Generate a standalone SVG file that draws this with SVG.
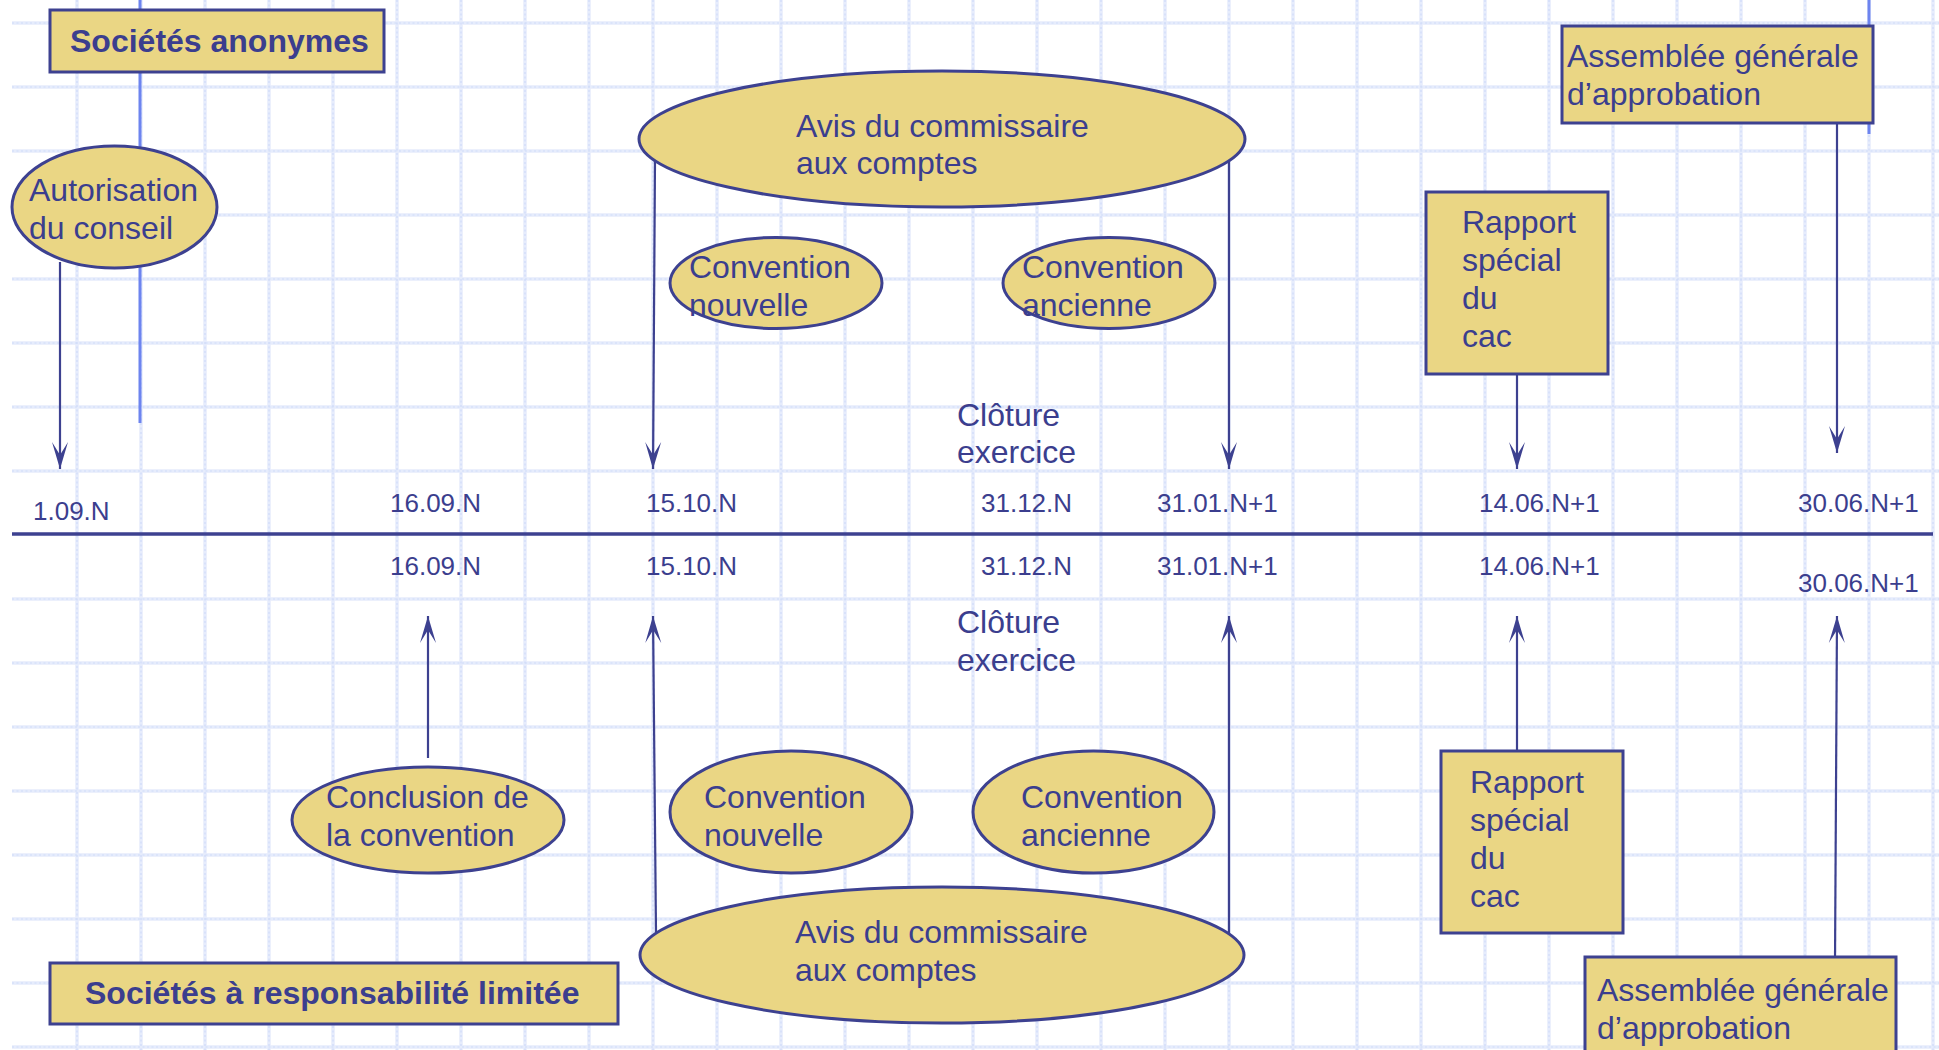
<svg xmlns="http://www.w3.org/2000/svg" width="1939" height="1050" viewBox="0 0 1939 1050">
<defs>
<style>
.grid{fill:none;stroke:#e6ecfc;stroke-width:3.5}
.gridd{fill:none;stroke:#d0dbf8;stroke-width:1.2;stroke-dasharray:2 2.5}
.blue{stroke:#6d84ef;stroke-width:3}
.conn{fill:none;stroke:#3d4190;stroke-width:2.2}
.axis{stroke:#3d4190;stroke-width:3.5}
.shape{fill:#ead684;stroke:#3d4190;stroke-width:3}
.t{font-family:"Liberation Sans",Arial,Helvetica,sans-serif;font-size:32px;fill:#3b3e8e}
.tb{font-family:"Liberation Sans",Arial,Helvetica,sans-serif;font-size:32px;font-weight:bold;fill:#3b3e8e}
.d{font-family:"Liberation Sans",Arial,Helvetica,sans-serif;font-size:26px;fill:#3b3e8e}
</style>
<marker id="ah" viewBox="-28 -9 29 18" refX="0" refY="0" markerWidth="29" markerHeight="18" markerUnits="userSpaceOnUse" orient="auto">
<path d="M0,0 L-27,-8 L-14,0 L-27,8 Z" fill="#3d4190"/>
</marker>
</defs>
<rect x="0" y="0" width="1939" height="1050" fill="#ffffff"/>
<g id="grid">
<path class="grid" d="M77,0V1050M141,0V1050M205,0V1050M269,0V1050M333,0V1050M397,0V1050M461,0V1050M525,0V1050M589,0V1050M653,0V1050M717,0V1050M781,0V1050M845,0V1050M909,0V1050M973,0V1050M1037,0V1050M1101,0V1050M1165,0V1050M1229,0V1050M1293,0V1050M1357,0V1050M1421,0V1050M1485,0V1050M1549,0V1050M1613,0V1050M1677,0V1050M1741,0V1050M1805,0V1050M1869,0V1050M1933,0V1050"/>
<path class="grid" d="M12,23H1939M12,87H1939M12,151H1939M12,215H1939M12,279H1939M12,343H1939M12,407H1939M12,471H1939M12,599H1939M12,663H1939M12,727H1939M12,791H1939M12,855H1939M12,919H1939M12,983H1939M12,1047H1939"/>
<path class="gridd" d="M77,0V1050M141,0V1050M205,0V1050M269,0V1050M333,0V1050M397,0V1050M461,0V1050M525,0V1050M589,0V1050M653,0V1050M717,0V1050M781,0V1050M845,0V1050M909,0V1050M973,0V1050M1037,0V1050M1101,0V1050M1165,0V1050M1229,0V1050M1293,0V1050M1357,0V1050M1421,0V1050M1485,0V1050M1549,0V1050M1613,0V1050M1677,0V1050M1741,0V1050M1805,0V1050M1869,0V1050M1933,0V1050"/>
<path class="gridd" d="M12,23H1939M12,87H1939M12,151H1939M12,215H1939M12,279H1939M12,343H1939M12,407H1939M12,471H1939M12,599H1939M12,663H1939M12,727H1939M12,791H1939M12,855H1939M12,919H1939M12,983H1939M12,1047H1939"/>
</g>
<g id="blue-lines">
<line class="blue" x1="140" y1="0" x2="140" y2="423"/>
<line class="blue" x1="1869" y1="0" x2="1869" y2="134"/>
</g>
<g id="timeline">
<line class="axis" x1="12" y1="534" x2="1933" y2="534"/>
<text class="d" x="33" y="520">1.09.N</text>
<text class="d" x="390" y="512">16.09.N</text>
<text class="d" x="646" y="512">15.10.N</text>
<text class="d" x="981" y="512">31.12.N</text>
<text class="d" x="1157" y="512">31.01.N+1</text>
<text class="d" x="1479" y="512">14.06.N+1</text>
<text class="d" x="1798" y="512">30.06.N+1</text>
<text class="d" x="390" y="575">16.09.N</text>
<text class="d" x="646" y="575">15.10.N</text>
<text class="d" x="981" y="575">31.12.N</text>
<text class="d" x="1157" y="575">31.01.N+1</text>
<text class="d" x="1479" y="575">14.06.N+1</text>
<text class="d" x="1798" y="592">30.06.N+1</text>
</g>
<g id="connectors">
<line class="conn" x1="60" y1="262" x2="60" y2="469" marker-end="url(#ah)"/>
<line class="conn" x1="655" y1="160" x2="653" y2="469" marker-end="url(#ah)"/>
<line class="conn" x1="1229" y1="160" x2="1229" y2="469" marker-end="url(#ah)"/>
<line class="conn" x1="1517" y1="374" x2="1517" y2="469" marker-end="url(#ah)"/>
<line class="conn" x1="1837" y1="118" x2="1837" y2="453" marker-end="url(#ah)"/>
<line class="conn" x1="428" y1="758" x2="428" y2="616" marker-end="url(#ah)"/>
<line class="conn" x1="656" y1="932" x2="653" y2="616" marker-end="url(#ah)"/>
<line class="conn" x1="1229" y1="934" x2="1229" y2="616" marker-end="url(#ah)"/>
<line class="conn" x1="1517" y1="751" x2="1517" y2="616" marker-end="url(#ah)"/>
<line class="conn" x1="1835" y1="962" x2="1837" y2="616" marker-end="url(#ah)"/>
</g>
<g id="sa-title">
<rect class="shape" x="50" y="10" width="334" height="62"/>
<text class="tb" x="70" y="52">Sociétés anonymes</text>
</g>
<g id="sa-autorisation">
<ellipse class="shape" cx="114.5" cy="207" rx="102.5" ry="61"/>
<text class="t" x="29" y="201">Autorisation</text>
<text class="t" x="29" y="239">du conseil</text>
</g>
<g id="sa-avis">
<ellipse class="shape" cx="942" cy="139" rx="303" ry="68"/>
<text class="t" x="796" y="137">Avis du commissaire</text>
<text class="t" x="796" y="174">aux comptes</text>
</g>
<g id="sa-conv-nouvelle">
<ellipse class="shape" cx="776" cy="283" rx="106" ry="45.5"/>
<text class="t" x="689" y="278">Convention</text>
<text class="t" x="689" y="316">nouvelle</text>
</g>
<g id="sa-conv-ancienne">
<ellipse class="shape" cx="1109" cy="283" rx="106" ry="45.5"/>
<text class="t" x="1022" y="278">Convention</text>
<text class="t" x="1022" y="316">ancienne</text>
</g>
<g id="sa-rapport">
<rect class="shape" x="1426" y="192" width="182" height="182"/>
<text class="t" x="1462" y="233">Rapport</text>
<text class="t" x="1462" y="271">spécial</text>
<text class="t" x="1462" y="309">du</text>
<text class="t" x="1462" y="347">cac</text>
</g>
<g id="sa-assemblee">
<rect class="shape" x="1562" y="26" width="311" height="97"/>
<text class="t" x="1567" y="67">Assemblée générale</text>
<text class="t" x="1567" y="105">d’approbation</text>
</g>
<g id="sa-cloture">
<text class="t" x="957" y="426">Clôture</text>
<text class="t" x="957" y="463">exercice</text>
</g>
<g id="sarl-cloture">
<text class="t" x="957" y="633">Clôture</text>
<text class="t" x="957" y="671">exercice</text>
</g>
<g id="sarl-conclusion">
<ellipse class="shape" cx="428" cy="820" rx="136" ry="53"/>
<text class="t" x="326" y="808">Conclusion de</text>
<text class="t" x="326" y="846">la convention</text>
</g>
<g id="sarl-conv-nouvelle">
<ellipse class="shape" cx="791" cy="812" rx="121" ry="61"/>
<text class="t" x="704" y="808">Convention</text>
<text class="t" x="704" y="846">nouvelle</text>
</g>
<g id="sarl-conv-ancienne">
<ellipse class="shape" cx="1093.5" cy="812" rx="120.5" ry="61"/>
<text class="t" x="1021" y="808">Convention</text>
<text class="t" x="1021" y="846">ancienne</text>
</g>
<g id="sarl-avis">
<ellipse class="shape" cx="942" cy="955" rx="302" ry="68"/>
<text class="t" x="795" y="943">Avis du commissaire</text>
<text class="t" x="795" y="981">aux comptes</text>
</g>
<g id="sarl-rapport">
<rect class="shape" x="1441" y="751" width="182" height="182"/>
<text class="t" x="1470" y="793">Rapport</text>
<text class="t" x="1470" y="831">spécial</text>
<text class="t" x="1470" y="869">du</text>
<text class="t" x="1470" y="907">cac</text>
</g>
<g id="sarl-assemblee">
<rect class="shape" x="1585" y="957" width="311" height="110"/>
<text class="t" x="1597" y="1001">Assemblée générale</text>
<text class="t" x="1597" y="1039">d’approbation</text>
</g>
<g id="sarl-title">
<rect class="shape" x="50" y="963" width="568" height="61"/>
<text class="tb" x="85" y="1004">Sociétés à responsabilité limitée</text>
</g>
</svg>
